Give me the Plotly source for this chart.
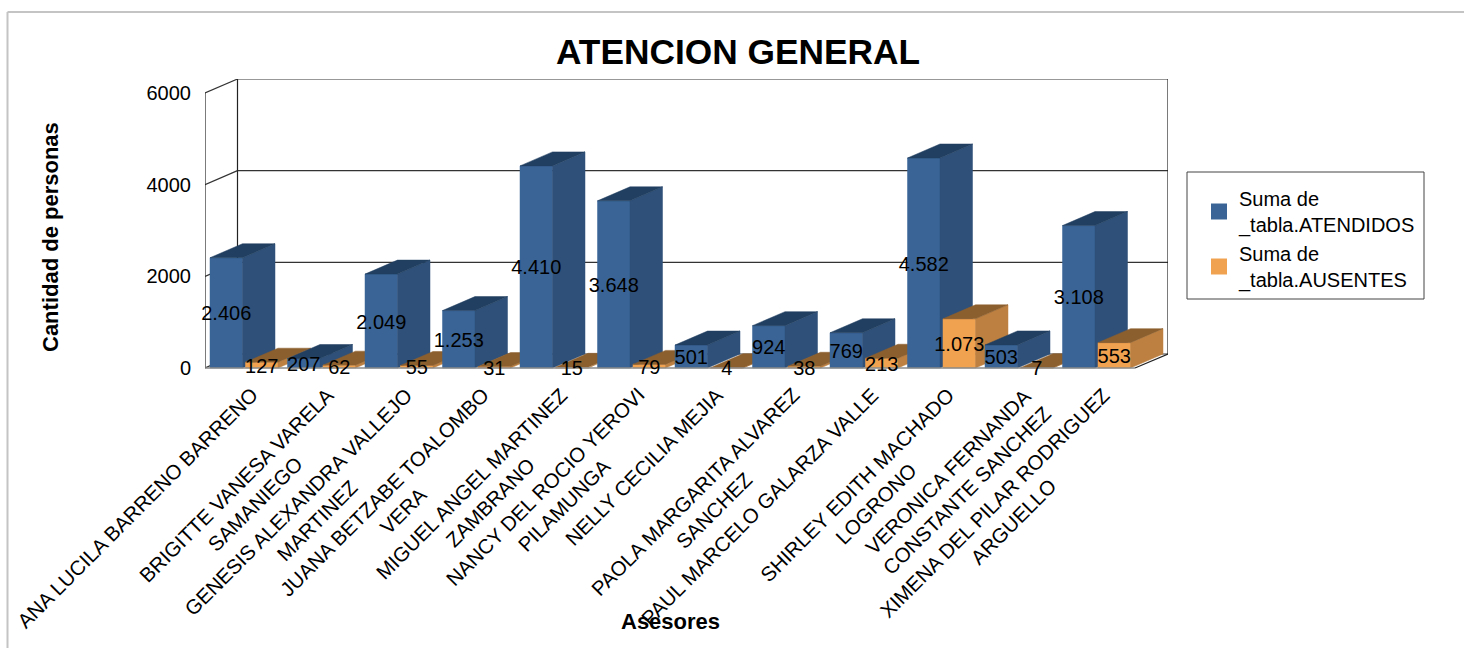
import plotly.graph_objects as go

asesores = ["ANA LUCILA BARRENO BARRENO", "BRIGITTE VANESA VARELA<br>SAMANIEGO",
            "GENESIS ALEXANDRA VALLEJO<br>MARTINEZ", "JUANA BETZABE TOALOMBO<br>VERA",
            "MIGUEL ANGEL MARTINEZ<br>ZAMBRANO", "NANCY DEL ROCIO YEROVI<br>PILAMUNGA",
            "NELLY CECILIA MEJIA", "PAOLA MARGARITA ALVAREZ<br>SANCHEZ",
            "PAUL MARCELO GALARZA VALLE", "SHIRLEY EDITH MACHADO<br>LOGRONO",
            "VERONICA FERNANDA<br>CONSTANTE SANCHEZ", "XIMENA DEL PILAR RODRIGUEZ<br>ARGUELLO"]
atendidos = [2406, 207, 2049, 1253, 4410, 3648, 501, 924, 769, 4582, 503, 3108]
ausentes = [127, 62, 55, 31, 15, 79, 4, 38, 213, 1073, 7, 553]
y_ticks = [0, 2000, 4000, 6000]

FONT = "Liberation Sans"
W, H = 1464, 648
L, R, T, B0 = 205, 1168, 79, 368
B = B0 + 12
CAT_PX = 77.5
UNIT_PX = (368 - 93) / 6000
DX = 32.5 / CAT_PX
DY = 14 / UNIT_PX
XMIN = -0.5
XMAX = XMIN + (R - L) / CAT_PX
YMAX = (B0 - T) / UNIT_PX
YMIN = -(B - B0) / UNIT_PX
X_FRONT_END = XMIN + len(asesores)
LABEL_NUDGE = 2.5 / UNIT_PX


def xp(px):
    return (px - L) / (R - L)


def yp(px):
    return (B - px) / (B - T)


fig = go.Figure()


def line(xs, ys, color="#333333", width=1.2):
    fig.add_trace(go.Scatter(x=xs, y=ys, mode="lines", line=dict(color=color, width=width),
                             hoverinfo="skip", showlegend=False, cliponaxis=False))


# walls and gridlines
for t in y_ticks:
    line([XMIN, XMIN + DX], [t, t + DY])
    line([XMIN + DX, XMAX], [t + DY, t + DY])
line([XMIN, XMIN], [0, y_ticks[-1]], "#222222")
line([XMIN + DX, XMIN + DX], [DY, y_ticks[-1] + DY], "#222222")
line([XMAX, XMAX], [DY, y_ticks[-1] + DY], "#222222")
line([X_FRONT_END, XMAX], [0, DY], "#222222")


def face(xs, ys, color):
    fig.add_trace(go.Scatter(x=xs, y=ys, mode="lines", fill="toself", fillcolor=color,
                             line=dict(color=color, width=0.5), hoverinfo="skip", showlegend=False))


def bar3d(x0, w, v, front, side, top):
    x1 = x0 + w
    face([x0, x1, x1, x0, x0], [0, 0, v, v, 0], front)
    face([x1, x1 + DX, x1 + DX, x1, x1], [0, DY, v + DY, v, 0], side)
    face([x0, x1, x1 + DX, x0 + DX, x0], [v, v, v + DY, v + DY, v], top)


BLUE = ("#3A6496", "#2F5078", "#213F60")
ORANGE = ("#F0A250", "#BD8040", "#8C5F2E")
BLUE_OFF, ORANGE_OFF, BAR_W = 5 / CAT_PX, 40.5 / CAT_PX, 32.5 / CAT_PX
label_x, label_y, label_t = [], [], []


def fmt(v):
    return f"{v:,}".replace(",", ".")


for i, (a, b) in enumerate(zip(atendidos, ausentes)):
    left = XMIN + i
    bar3d(left + BLUE_OFF, BAR_W, a, *BLUE)
    bar3d(left + ORANGE_OFF, BAR_W, b, *ORANGE)
    label_x += [left + BLUE_OFF + BAR_W / 2, left + ORANGE_OFF + BAR_W / 2]
    label_y += [a / 2 - LABEL_NUDGE, b / 2 - LABEL_NUDGE]
    label_t += [fmt(a), fmt(b)]

line([XMIN, X_FRONT_END], [0, 0], "#8a8a8a", 1.5)

fig.add_trace(go.Scatter(x=label_x, y=label_y, text=label_t, mode="text", textposition="middle center",
                         textfont=dict(family=FONT, size=20, color="#000000"), cliponaxis=False,
                         hoverinfo="skip", showlegend=False))

# legend entries
for name, color in (("Suma de<br>_tabla.ATENDIDOS", BLUE[0]), ("Suma de<br>_tabla.AUSENTES", ORANGE[0])):
    fig.add_trace(go.Scatter(x=[None], y=[None], mode="markers", name=name,
                             marker=dict(symbol="square", size=20, color=color)))

annotations = []
for i, name in enumerate(asesores):
    extra = 19 if "<br>" in name else 1
    annotations.append(dict(text=name, x=XMIN + i + (59 + extra) / CAT_PX, y=yp(381), xref="x", yref="paper",
                            xanchor="right", yanchor="top", textangle=-45, align="center", showarrow=False,
                            font=dict(family=FONT, size=20.4, color="#000000")))
annotations += [
    dict(text="<b>ATENCION GENERAL</b>", x=xp(738), y=yp(52), xref="paper", yref="paper", showarrow=False,
         xanchor="center", yanchor="middle", font=dict(family=FONT, size=35.3, color="#000000")),
    dict(text="<b>Cantidad de personas</b>", x=xp(50), y=yp(237), xref="paper", yref="paper", showarrow=False,
         xanchor="center", yanchor="middle", textangle=-90, font=dict(family=FONT, size=22, color="#000000")),
    dict(text="<b>Asesores</b>", x=xp(670), y=yp(621), xref="paper", yref="paper", showarrow=False,
         xanchor="center", yanchor="middle", font=dict(family=FONT, size=22, color="#000000")),
]

shapes = [
    dict(type="rect", xref="paper", yref="paper", x0=xp(1187), x1=xp(1424), y0=yp(299), y1=yp(172),
         line=dict(color="#444444", width=1), fillcolor="rgba(0,0,0,0)"),
    dict(type="line", xref="paper", yref="paper", x0=xp(7.5), x1=xp(7.5), y0=yp(12), y1=yp(648),
         line=dict(color="#c4c4c4", width=2)),
    dict(type="line", xref="paper", yref="paper", x0=xp(7.5), x1=xp(1464), y0=yp(12), y1=yp(12),
         line=dict(color="#c4c4c4", width=2)),
]

fig.update_layout(
    width=W, height=H, autosize=False,
    margin=dict(l=L, r=W - R, t=T, b=H - B, pad=0),
    paper_bgcolor="#ffffff", plot_bgcolor="#ffffff",
    showlegend=True,
    legend=dict(x=xp(1199), y=yp(179), xanchor="left", yanchor="top", borderwidth=0,
                bgcolor="rgba(0,0,0,0)", font=dict(family=FONT, size=20, color="#000000"),
                tracegroupgap=0),
    xaxis=dict(range=[XMIN, XMAX], showgrid=False, zeroline=False, showline=False, showticklabels=False, ticks=""),
    yaxis=dict(range=[YMIN, YMAX], tickvals=y_ticks, showgrid=False, zeroline=False, showline=False,
               ticks="outside", ticklen=9, tickcolor="rgba(0,0,0,0)", tickformat="d",
               tickfont=dict(family=FONT, size=20, color="#000000")),
    annotations=annotations, shapes=shapes,
)
fig.write_html("out.html", config={"displayModeBar": False},
               post_script="document.body.style.margin='0';document.documentElement.style.overflow='hidden';")
